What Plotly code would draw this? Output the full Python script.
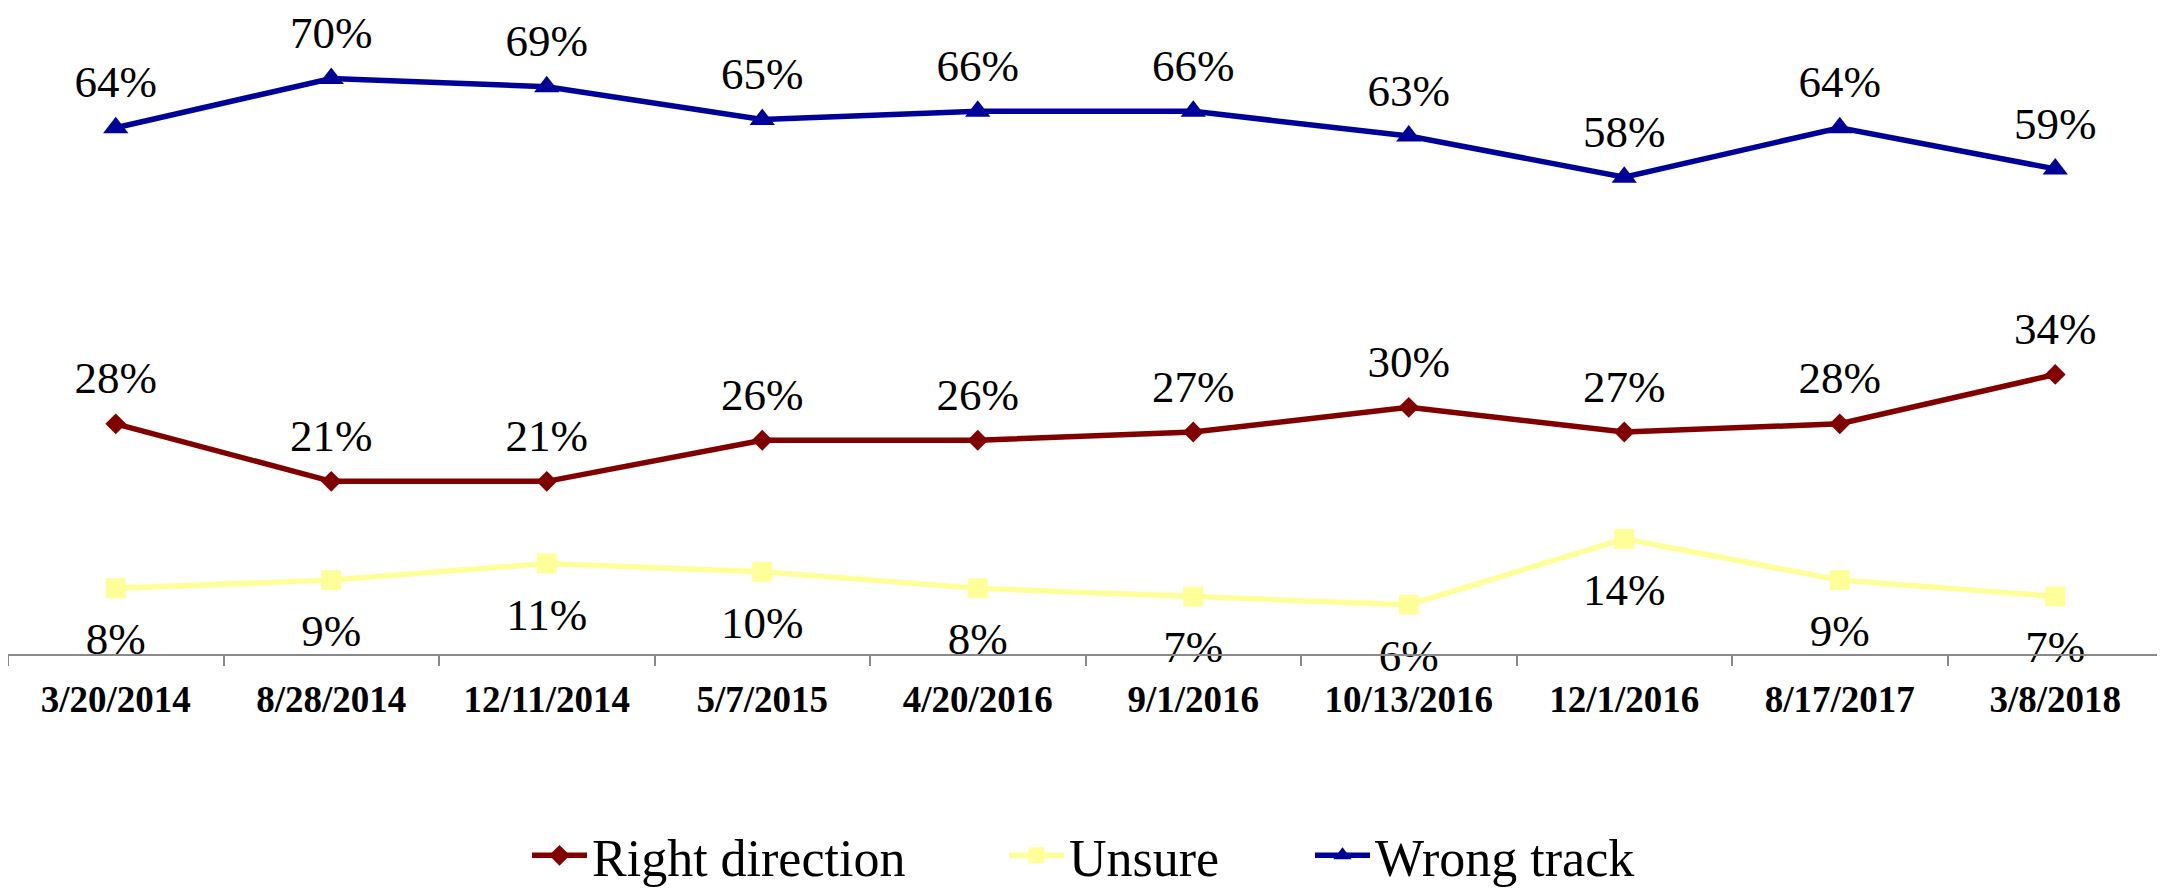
import plotly.graph_objects as go

dates = ["3/20/2014", "8/28/2014", "12/11/2014", "5/7/2015", "4/20/2016",
         "9/1/2016", "10/13/2016", "12/1/2016", "8/17/2017", "3/8/2018"]
right_direction = [28, 21, 21, 26, 26, 27, 30, 27, 28, 34]
unsure = [8, 9, 11, 10, 8, 7, 6, 14, 9, 7]
wrong_track = [64, 70, 69, 65, 66, 66, 63, 58, 64, 59]

FONT = "Liberation Serif"
C_RIGHT = "#800000"
C_UNSURE = "#FFFF99"
C_WRONG = "#000099"

OFF = 8  # page body margin
W, H = 2165, 888
ML, MR, MT, MB = 0, 10, 0, 239
PW = W - ML - MR
PH = H - MT - MB
YTOP = PH / 8.26

fig = go.Figure()

series = [
    ("Right direction", right_direction, C_RIGHT, "diamond", 16, "top center", 29, "legend"),
    ("Unsure", unsure, C_UNSURE, "square", 20, "bottom center", 50, "legend2"),
    ("Wrong track", wrong_track, C_WRONG, "triangle-up", 22, "top center", 29, "legend3"),
]

for name, vals, col, sym, msize, tpos, lsize, leg in series:
    fig.add_trace(go.Scatter(
        x=dates, y=vals, name=name, mode="lines+markers",
        line=dict(color=col, width=5.5),
        marker=dict(symbol=sym, size=msize, color=col),
        legend=leg, hoverinfo="skip",
    ))

for name, vals, col, sym, msize, tpos, lsize, leg in series:
    fig.add_trace(go.Scatter(
        x=dates, y=vals, mode="markers+text", showlegend=False,
        text=[f"{v}%" for v in vals], textposition=tpos,
        textfont=dict(family=FONT, size=45, color="black"),
        marker=dict(size=lsize, color="rgba(0,0,0,0)"),
        hoverinfo="skip", cliponaxis=False,
    ))

def px2x(px):
    return (px - OFF - ML) / PW

def py2y(py):
    return (OFF + H - MB - py) / PH

legend_common = dict(orientation="h", font=dict(family=FONT, size=52, color="black"),
                     bgcolor="rgba(0,0,0,0)", borderwidth=0, itemwidth=55,
                     xanchor="left", yanchor="middle")

fig.update_layout(
    width=W, height=H,
    margin=dict(l=ML, r=MR, t=MT, b=MB),
    paper_bgcolor="white", plot_bgcolor="white",
    xaxis=dict(
        type="category", showgrid=False, zeroline=False,
        showline=True, linecolor="#898989", linewidth=2,
        ticks="outside", tickson="boundaries", ticklen=10, tickwidth=2, tickcolor="#898989",
        tickfont=dict(family=FONT, size=37, color="black", weight="bold"),
        ticklabelstandoff=12,
        range=[-0.5, 9.5],
    ),
    yaxis=dict(range=[0, YTOP], visible=False, showgrid=False, zeroline=False),
    legend=dict(x=px2x(527), y=py2y(860), **legend_common),
    legend2=dict(x=px2x(1004), y=py2y(860), **legend_common),
    legend3=dict(x=px2x(1310), y=py2y(860), **legend_common),
    showlegend=True,
)

fig.write_html("out.html")
